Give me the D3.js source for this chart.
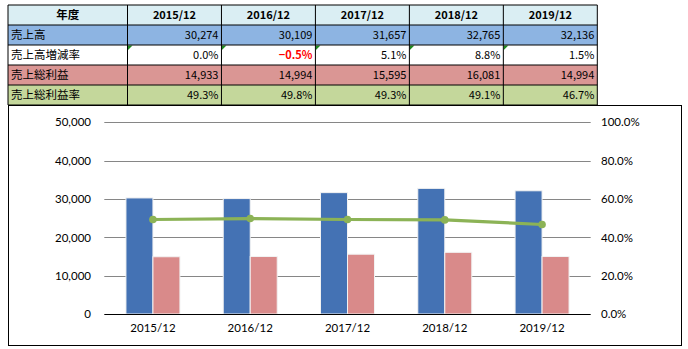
<!DOCTYPE html>
<html><head><meta charset="utf-8">
<script src="https://cdn.jsdelivr.net/npm/d3@7"></script>
<style>body{margin:0;background:#fff}svg{display:block}</style>
</head><body>
<svg id="c" width="688" height="349"></svg>
<script>
const categories = ["2015/12","2016/12","2017/12","2018/12","2019/12"];
const sales = [30274,30109,31657,32765,32136];
const salesGrowth = [0.0,-0.5,5.1,8.8,1.5];
const grossProfit = [14933,14994,15595,16081,14994];
const grossMargin = [49.3,49.8,49.3,49.1,46.7];
const rowLabels = ["売上高","売上高増減率","売上総利益","売上総利益率"];
const headerLabel = "年度";
const leftTicks = [0,10000,20000,30000,40000,50000];
const rightTicks = [0,20,40,60,80,100];

const svg = d3.select("#c");
const tFont = "'Noto Sans CJK JP', sans-serif";
const cFont = "Lato, 'Open Sans', sans-serif";

// ---------- table ----------
const tblLeft = 8, firstW = 119.5, tblRight = 597.3;
const dataCol = d3.scaleBand().domain(categories).range([tblLeft+firstW, tblRight]);
const rowY = d3.scaleBand().domain(["h","r0","r1","r2","r3"]).range([5,105]);
const rowFill = {h:"#DAEEF3", r0:"#8DB4E2", r1:"#FFFFFF", r2:"#DA9694", r3:"#C4D79B"};
const fmtInt = d3.format(",");
const fmtPct = v => (v<0 ? "\u2212" : "") + Math.abs(v).toFixed(1) + "%";

const rows = [
  {key:"h", label:headerLabel, vals:categories, fmt:d=>d, header:true},
  {key:"r0", label:rowLabels[0], vals:sales, fmt:fmtInt},
  {key:"r1", label:rowLabels[1], vals:salesGrowth, fmt:fmtPct, tri:true},
  {key:"r2", label:rowLabels[2], vals:grossProfit, fmt:fmtInt},
  {key:"r3", label:rowLabels[3], vals:grossMargin, fmt:v=>v.toFixed(1)+"%"}
];
const tg = svg.append("g");
rows.forEach(r=>{
  const y = rowY(r.key), h = rowY.bandwidth();
  tg.append("rect").attr("x",tblLeft).attr("y",y).attr("width",tblRight-tblLeft).attr("height",h).attr("fill",rowFill[r.key]);
  tg.append("text").attr("x", r.header ? tblLeft+firstW/2 : tblLeft+3).attr("y",y+h/2+4)
    .attr("text-anchor", r.header?"middle":"start")
    .attr("font-family",tFont).attr("font-size",11.5).attr("font-weight", r.header?700:400).attr("fill","#000").text(r.label);
  r.vals.forEach((v,i)=>{
    const cx = dataCol(categories[i]), w = dataCol.bandwidth();
    if(r.tri){
      tg.append("path").attr("d",`M${cx+0.5},${y+0.5}L${cx+5},${y+0.5}L${cx+0.5},${y+5}Z`).attr("fill","#1F8A1F");
    }
    const neg = r.tri && v<0;
    tg.append("text").attr("x", r.header ? cx+w/2 : cx+w-3).attr("y",y+h/2+4)
      .attr("text-anchor", r.header?"middle":"end")
      .attr("font-family",tFont).attr("font-size",11).attr("font-weight", (r.header||neg)?700:400)
      .attr("fill", neg ? "#FF0000" : "#000").text(r.fmt(v));
  });
});
const vEdges = [tblLeft, tblLeft+firstW].concat(categories.map(c=>dataCol(c)+dataCol.bandwidth()));
vEdges.forEach(x=>tg.append("line").attr("x1",x).attr("x2",x).attr("y1",5).attr("y2",105).attr("stroke","#000").attr("stroke-width",1));
["h","r0","r1","r2","r3"].forEach(k=>tg.append("line").attr("x1",tblLeft).attr("x2",tblRight).attr("y1",rowY(k)).attr("y2",rowY(k)).attr("stroke","#000"));
tg.append("line").attr("x1",tblLeft).attr("x2",tblRight).attr("y1",105).attr("y2",105).attr("stroke","#000");

// ---------- chart ----------
svg.append("rect").attr("x",8.5).attr("y",105.5).attr("width",673).attr("height",240).attr("fill","none").attr("stroke","#000");

const plotL = 104.3, plotR = 590.7, plotT = 122.3, plotB = 314;
const x = d3.scaleBand().domain(categories).range([plotL,plotR]).paddingInner(0.445).paddingOuter(0.2225);
const xs = d3.scaleBand().domain(["sales","gross"]).range([0,x.bandwidth()]);
const y = d3.scaleLinear().domain([0,50000]).range([plotB,plotT]);
const y2 = d3.scaleLinear().domain([0,100]).range([plotB,plotT]);

const cg = svg.append("g");
cg.selectAll(".grid").data(leftTicks.filter(d=>d>0)).join("line")
  .attr("x1",plotL).attr("x2",plotR).attr("y1",d=>Math.round(y(d))+0.5).attr("y2",d=>Math.round(y(d))+0.5)
  .attr("stroke","#868686").attr("stroke-width",1);

const barData = [];
categories.forEach((c,i)=>{
  barData.push({c, k:"sales", v:sales[i]});
  barData.push({c, k:"gross", v:grossProfit[i]});
});
cg.selectAll(".bar").data(barData).join("rect")
  .attr("x",d=>x(d.c)+xs(d.k)).attr("width",xs.bandwidth())
  .attr("y",d=>y(d.v)).attr("height",d=>plotB-y(d.v))
  .attr("fill",d=>d.k==="sales"?"#4472B4":"#D98A8A")
  .attr("stroke","#F2F2F2").attr("stroke-width",1);

cg.append("line").attr("x1",plotL).attr("x2",plotR).attr("y1",plotB+0.5).attr("y2",plotB+0.5).attr("stroke","#000").attr("stroke-width",1.2);

const line = d3.line().x((d,i)=>x(categories[i])+x.bandwidth()/2).y(d=>y2(d));
cg.append("path").datum(grossMargin).attr("d",line).attr("fill","none").attr("stroke","#8CB356").attr("stroke-width",3.2);
cg.selectAll(".dot").data(grossMargin).join("circle")
  .attr("cx",(d,i)=>x(categories[i])+x.bandwidth()/2).attr("cy",d=>y2(d)).attr("r",3.8).attr("fill","#8CB356");

const yAxis = d3.axisLeft(y).tickValues(leftTicks).tickFormat(d3.format(",")).tickSize(0).tickPadding(0);
const ga = svg.append("g").attr("transform",`translate(91,0)`).call(yAxis);
ga.select(".domain").remove();
const y2Axis = d3.axisRight(y2).tickValues(rightTicks).tickFormat(d=>d.toFixed(1)+"%").tickSize(0).tickPadding(0);
const gb = svg.append("g").attr("transform",`translate(601,0)`).call(y2Axis);
gb.select(".domain").remove();
const xAxis = d3.axisBottom(x).tickSize(0).tickPadding(0);
const gc = svg.append("g").attr("transform",`translate(0,${plotB+10})`).call(xAxis);
gc.select(".domain").remove();
[ga,gb,gc].forEach(g=>g.selectAll("text").attr("font-family",cFont).attr("font-size",11.5).attr("fill","#000"));
</script>
</body></html>
